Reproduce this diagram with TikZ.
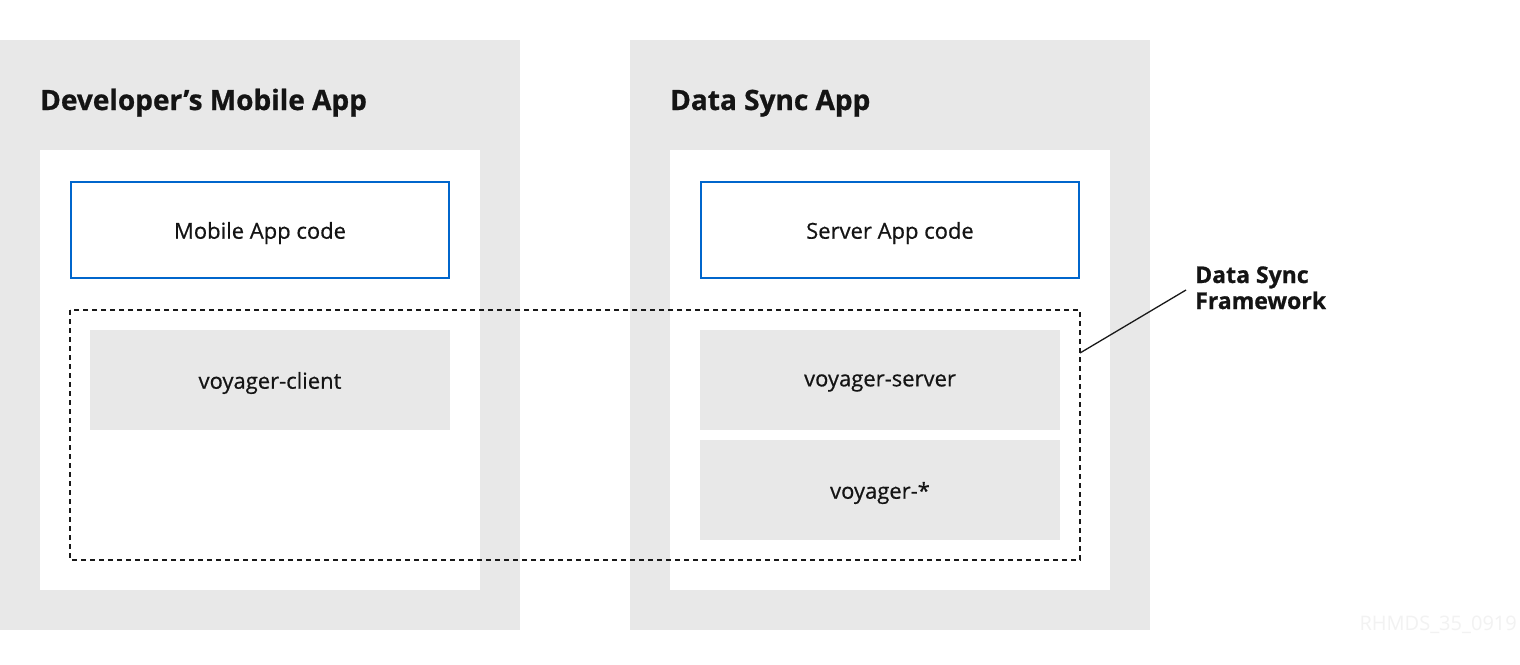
\documentclass[tikz,border=0pt]{standalone}
\usepackage{fontspec}
\setmainfont{Open Sans}
\newfontfamily\medfont[FakeBold=0.6]{Open Sans}
\newfontfamily\heavyfont[FakeBold=0.8]{Open Sans Bold}
\begin{document}
\begin{tikzpicture}[x=1pt,y=-1pt,
  outerbox/.style={fill=boxgrey,draw=none},
  innerbox/.style={fill=white,draw=none},
  codebox/.style={draw=rhblue,line width=1.6pt,fill=white},
  libbox/.style={fill=boxgrey,draw=none},
  lbl/.style={font=\medfont\fontsize{22}{26}\selectfont,text=black!92},
  ttl/.style={font=\heavyfont\fontsize{28}{32}\selectfont,text=black!92,anchor=base west,inner sep=0pt},
  frame/.style={draw=black!90,line width=1.1pt,dash pattern=on 5pt off 4pt},
]
\definecolor{boxgrey}{HTML}{E8E8E8}
\definecolor{rhblue}{HTML}{0066CC}
\useasboundingbox (0,0) rectangle (1520,664);
\fill[white] (0,0) rectangle (1520,664);
% outer boxes
\path[outerbox] (0,40) rectangle (520,630);
\path[outerbox] (630,40) rectangle (1150,630);
\path[innerbox] (40,150) rectangle (480,590);
\path[innerbox] (670,150) rectangle (1110,590);
% titles
\node[ttl] (t1) at (40,110) {Developer’s Mobile App};
\node[ttl] (t2) at (670,110) {Data Sync App};
% code boxes
\draw[codebox] (71,182) rectangle (449,278);
\node[lbl] (mac) at (260,233) {Mobile App code};
\draw[codebox] (701,182) rectangle (1079,278);
\node[lbl] (sac) at (890,233) {Server App code};
% lib boxes
\path[libbox] (90,330) rectangle (450,430);
\node[lbl] (vc) at (270,383) {voyager-client};
\path[libbox] (700,330) rectangle (1060,430);
\node[lbl] (vs) at (880,383) {voyager-server};
\path[libbox] (700,440) rectangle (1060,540);
\node[lbl] (vx) at (880,493) {voyager-*};
% dashed framework
\draw[frame] (70,310) rectangle (1080,560);
\coordinate (fr) at (1080,353);
\node[font=\heavyfont\fontsize{23}{26}\selectfont,text=black!92,align=left,anchor=base west,inner sep=0pt] (dsf) at (1195,309) {Data Sync\\Framework};
\coordinate (le) at (1186,290);
\draw[line width=1.3pt,black!90] (fr) -- (le);
% watermark
\node[font=\fontsize{20}{22}\selectfont,text=black!5,anchor=base east,inner sep=0pt] (wm) at (1517,630) {RHMDS\_35\_0919};
\end{tikzpicture}
\end{document}
